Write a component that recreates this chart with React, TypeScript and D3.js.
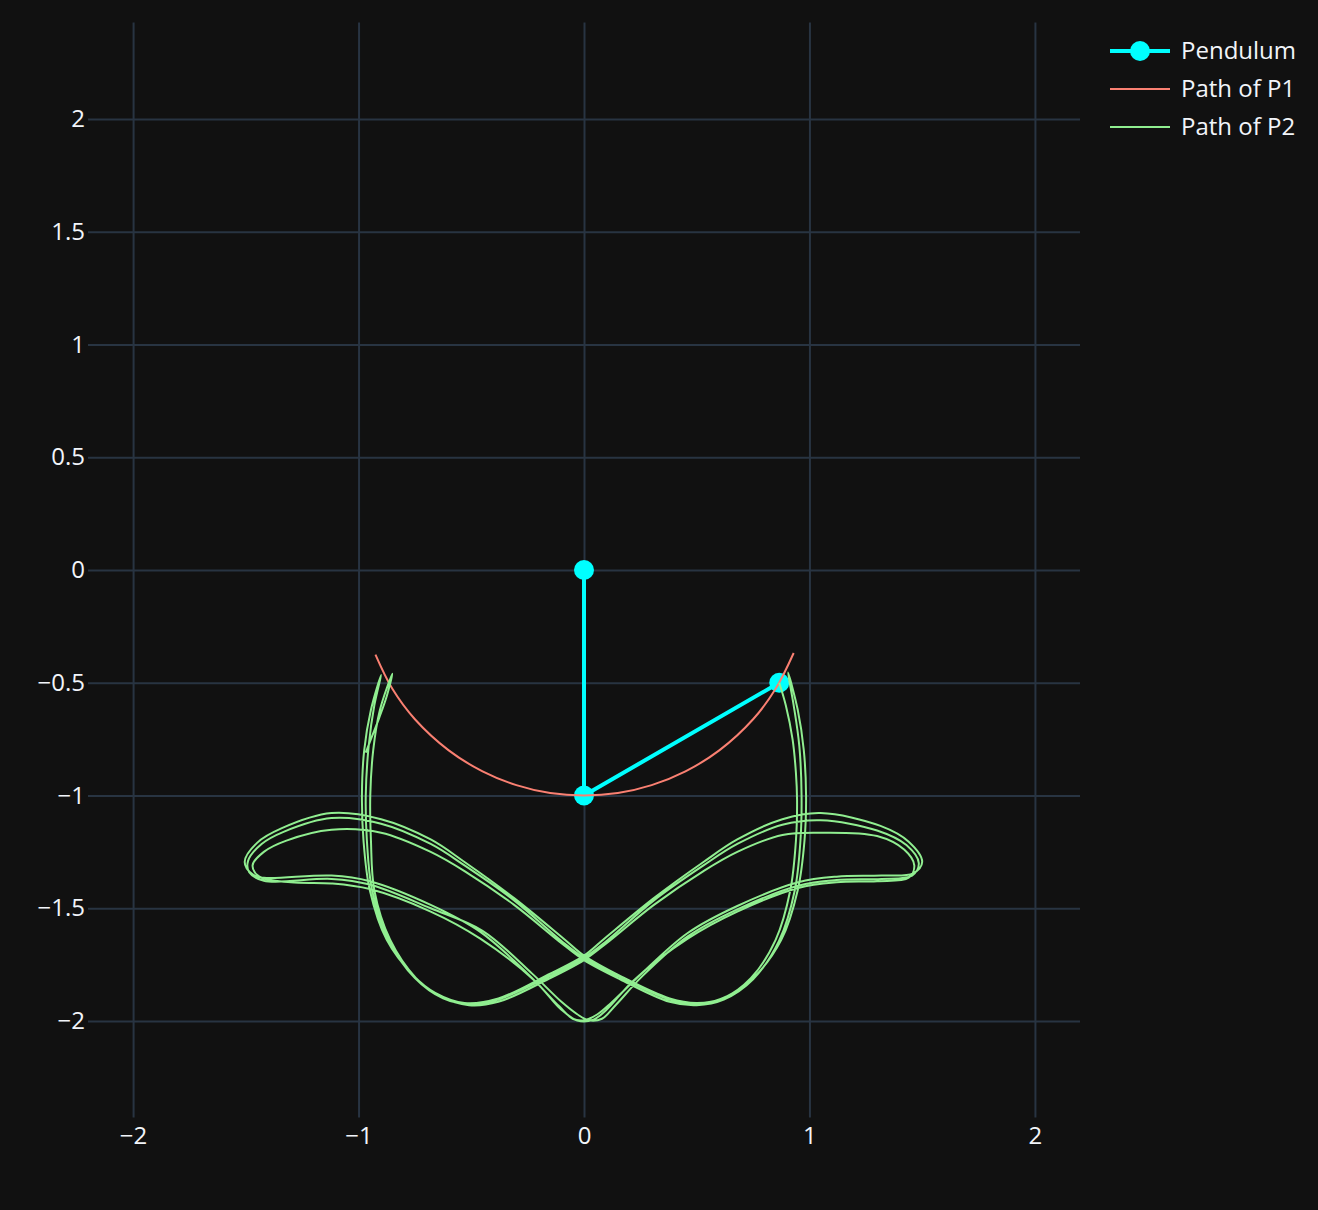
// import d3 for drawing
import * as d3 from "d3";

// import required hooks from React
import { useRef, useEffect } from "react";

// tick values for the axes
const xTicks = [-2, -1, 0, 1, 2];
const yTicks = [-2, -1.5, -1, -0.5, 0, 0.5, 1, 1.5, 2];

// pendulum: pivot, first bob, second bob
const pendulumX = [0, 0, 0.866];
const pendulumY = [0, -1, -0.5];

// path traced by the first bob
const p1Path: [number, number][] = [
  [-0.925, -0.375], [-0.85, -0.527], [-0.75, -0.662], [-0.6, -0.8], [-0.45, -0.893],
  [-0.3, -0.954], [-0.15, -0.989], [0, -1.0], [0.15, -0.989], [0.3, -0.954],
  [0.45, -0.893], [0.6, -0.8], [0.75, -0.662], [0.85, -0.527], [0.93, -0.368],
];

// path traced by the second bob, one swing after another
const p2Swing1: [number, number][] = [
  [0.866, -0.5], [0.895, -0.6], [0.925, -0.75], [0.94, -0.9], [0.945, -1.02], [0.94, -1.2],
  [0.915, -1.42], [0.85, -1.64], [0.74, -1.81], [0.615, -1.9], [0.5, -1.92], [0.38, -1.9],
  [0.16, -1.8], [0.0, -1.71], [-0.09, -1.635], [-0.31, -1.455], [-0.53, -1.295], [-0.68, -1.195],
  [-0.9, -1.105], [-1.12, -1.078], [-1.34, -1.145], [-1.45, -1.21], [-1.505, -1.295], [-1.47, -1.35],
  [-1.42, -1.365], [-1.12, -1.355], [-0.95, -1.38], [-0.68, -1.485], [-0.46, -1.605], [-0.25, -1.79],
  [-0.11, -1.935], [-0.05, -1.99], [0.0, -1.997], [0.06, -1.97], [0.12, -1.92], [0.25, -1.795],
  [0.46, -1.61], [0.68, -1.49], [0.95, -1.385], [1.12, -1.36], [1.32, -1.355], [1.46, -1.345],
  [1.5, -1.295], [1.44, -1.205], [1.315, -1.135], [1.05, -1.078], [0.88, -1.105], [0.68, -1.195],
  [0.53, -1.295], [0.31, -1.455], [0.09, -1.635], [0.0, -1.71], [-0.16, -1.795], [-0.38, -1.9],
  [-0.53, -1.92], [-0.66, -1.875], [-0.755, -1.8], [-0.875, -1.64], [-0.95, -1.42], [-0.978, -1.2],
  [-0.985, -1.0], [-0.975, -0.8], [-0.945, -0.62], [-0.9, -0.466],
];
const p2Swing2: [number, number][] = [
  [-0.93, -0.6], [-0.955, -0.78], [-0.968, -1.0], [-0.963, -1.2], [-0.94, -1.42], [-0.868, -1.64],
  [-0.75, -1.81], [-0.625, -1.9], [-0.51, -1.925], [-0.38, -1.905], [-0.16, -1.805], [0.0, -1.72],
  [0.1, -1.645], [0.31, -1.465], [0.53, -1.31], [0.68, -1.215], [0.88, -1.13], [1.05, -1.11],
  [1.3, -1.155], [1.43, -1.22], [1.485, -1.3], [1.455, -1.355], [1.32, -1.37], [1.12, -1.375],
  [0.95, -1.4], [0.68, -1.505], [0.46, -1.625], [0.26, -1.8], [0.14, -1.93], [0.08, -1.99],
  [0.02, -1.997], [-0.03, -1.97], [-0.1, -1.915], [-0.23, -1.79], [-0.45, -1.6], [-0.68, -1.5],
  [-0.95, -1.395], [-1.12, -1.37], [-1.42, -1.378], [-1.485, -1.34], [-1.49, -1.29], [-1.43, -1.215],
  [-1.33, -1.16], [-1.12, -1.1], [-0.9, -1.125], [-0.68, -1.215], [-0.53, -1.31], [-0.31, -1.465],
  [-0.1, -1.645], [0.0, -1.72], [0.16, -1.805], [0.38, -1.905], [0.51, -1.925], [0.635, -1.89],
  [0.755, -1.805], [0.875, -1.64], [0.948, -1.42], [0.978, -1.2], [0.985, -1.0], [0.975, -0.8],
  [0.948, -0.62], [0.905, -0.455],
];
const p2Swing3: [number, number][] = [
  [0.93, -0.6], [0.955, -0.78], [0.965, -1.0], [0.96, -1.2], [0.935, -1.42], [0.865, -1.645],
  [0.75, -1.815], [0.62, -1.905], [0.5, -1.93], [0.38, -1.915], [0.16, -1.815], [0.0, -1.73],
  [-0.1, -1.655], [-0.31, -1.485], [-0.53, -1.335], [-0.68, -1.25], [-0.9, -1.165], [-1.12, -1.152],
  [-1.32, -1.2], [-1.42, -1.25], [-1.47, -1.31], [-1.44, -1.36], [-1.3, -1.385], [-1.12, -1.39],
  [-0.95, -1.415], [-0.68, -1.515], [-0.46, -1.635], [-0.22, -1.82], [-0.1, -1.95], [-0.03, -1.998],
  [0.04, -1.995], [0.1, -1.95], [0.22, -1.82], [0.46, -1.635], [0.68, -1.515], [0.95, -1.41],
  [1.12, -1.385], [1.3, -1.38], [1.44, -1.365], [1.465, -1.31], [1.42, -1.24], [1.3, -1.18],
  [1.05, -1.165], [0.88, -1.175], [0.68, -1.25], [0.53, -1.335], [0.31, -1.485], [0.1, -1.655],
  [0.0, -1.73], [-0.16, -1.815], [-0.38, -1.915], [-0.51, -1.93], [-0.64, -1.89], [-0.745, -1.81],
  [-0.86, -1.64], [-0.93, -1.42], [-0.945, -1.2], [-0.948, -1.0], [-0.935, -0.8], [-0.905, -0.62],
  [-0.85, -0.46],
];
const p2Swing4: [number, number][] = [
  [-0.875, -0.56], [-0.91, -0.66], [-0.945, -0.75], [-0.968, -0.81],
];

// legend entries
const legendNames = ["Pendulum", "Path of P1", "Path of P2"];
const legendColors = ["#00ffff", "#fa8072", "#90ee90"];

export default function App() {
  // ref for svg
  const svgRef = useRef<SVGSVGElement>(null);

  useEffect(() => {
    const svg = d3.select(svgRef.current);
    svg.selectAll("*").remove();

    const width = 1318;
    const height = 1210;
    const font = '"Open Sans", verdana, arial, sans-serif';

    // plot area
    const left = 88, right = 1080, top = 22.5, bottom = 1117.5;

    // background
    svg.append("rect").attr("width", width).attr("height", height).attr("fill", "#111111");

    // scales with equal aspect
    const x = d3.scaleLinear().domain([-2.2, 2.2]).range([left, right]);
    const y = d3.scaleLinear().domain([-2.428, 2.428]).range([bottom, top]);

    const fmt = (d: d3.NumberValue) => String(d).replace("-", "\u2212");

    // x axis with grid
    const gx = svg.append("g").attr("transform", `translate(0,${bottom})`)
      .call(d3.axisBottom(x).tickValues(xTicks).tickSize(-(bottom - top)).tickPadding(9).tickFormat(fmt));
    // y axis with grid
    const gy = svg.append("g").attr("transform", `translate(${left},0)`)
      .call(d3.axisLeft(y).tickValues(yTicks).tickSize(-(right - left)).tickPadding(3).tickFormat(fmt));

    [gx, gy].forEach((g) => {
      g.select(".domain").remove();
      g.selectAll(".tick line").attr("stroke", "#283442").attr("stroke-width", 2);
      g.selectAll(".tick text").attr("fill", "#f2f5fa").style("font-family", font).style("font-size", "24px");
    });

    // clip to plot area
    svg.append("clipPath").attr("id", "plot-clip").append("rect")
      .attr("x", left).attr("y", top).attr("width", right - left).attr("height", bottom - top);
    const plot = svg.append("g").attr("clip-path", "url(#plot-clip)");

    const line = d3.line<[number, number]>().x((d) => x(d[0])).y((d) => y(d[1]));
    const smooth = d3.line<[number, number]>().x((d) => x(d[0])).y((d) => y(d[1])).curve(d3.curveCatmullRom.alpha(0.5));

    // pendulum rods and bobs
    const pendulum: [number, number][] = pendulumX.map((v, i) => [v, pendulumY[i]]);
    plot.append("path").datum(pendulum).attr("d", line).attr("fill", "none")
      .attr("stroke", legendColors[0]).attr("stroke-width", 4).attr("stroke-linejoin", "round");
    plot.selectAll("circle.bob").data(pendulum).enter().append("circle").attr("class", "bob")
      .attr("cx", (d) => x(d[0])).attr("cy", (d) => y(d[1])).attr("r", 10).attr("fill", legendColors[0]);

    // path of P1
    plot.append("path").datum(p1Path).attr("d", smooth).attr("fill", "none")
      .attr("stroke", legendColors[1]).attr("stroke-width", 2);

    // path of P2
    const p2Path = [...p2Swing1, ...p2Swing2, ...p2Swing3, ...p2Swing4];
    plot.append("path").datum(p2Path).attr("d", smooth).attr("fill", "none")
      .attr("stroke", legendColors[2]).attr("stroke-width", 2);

    // legend
    const legend = svg.append("g").attr("transform", "translate(1110,51)");
    legendNames.forEach((name, i) => {
      const row = legend.append("g").attr("transform", `translate(0,${i * 38})`);
      row.append("line").attr("x1", 0).attr("x2", 60).attr("y1", 0).attr("y2", 0)
        .attr("stroke", legendColors[i]).attr("stroke-width", i === 0 ? 4 : 2);
      if (i === 0) row.append("circle").attr("cx", 30).attr("cy", 0).attr("r", 10).attr("fill", legendColors[0]);
      row.append("text").attr("x", 71).attr("y", 0).attr("dy", "0.35em").attr("fill", "#f2f5fa")
        .style("font-family", font).style("font-size", "24px").text(name);
    });
  }, []);

  return (
    <svg ref={svgRef} width={1318} height={1210} style={{ position: "absolute", left: 0, top: 0, display: "block" }} />
  );
}
